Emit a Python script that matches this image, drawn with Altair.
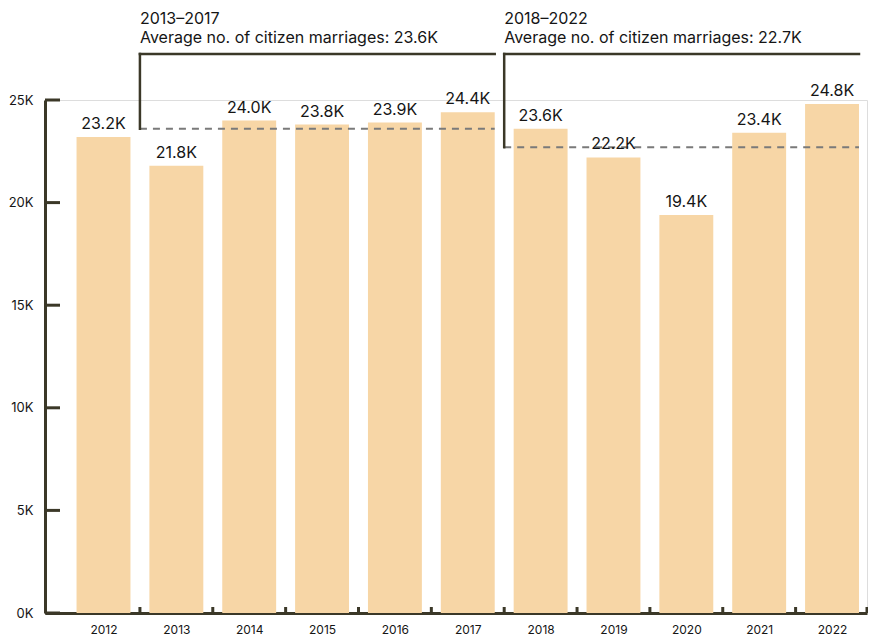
import altair as alt
import pandas as pd

# ---- data ----
years = [2012, 2013, 2014, 2015, 2016, 2017, 2018, 2019, 2020, 2021, 2022]
marriages = [23200, 21800, 24000, 23800, 23900, 24400, 23600, 22200, 19400, 23400, 24800]

period_start = [2013, 2018]
period_end = [2017, 2022]
period_avg = [23600, 22700]
period_title = ["2013–2017", "2018–2022"]
period_avg_label = ["23.6K", "22.7K"]

y_ticks = [0, 5000, 10000, 15000, 20000, 25000]
tick_years = years[:-1]

# ---- style ----
W, H = 822, 513
BAR = "#F7D6A6"
DARK = "#3B3828"
TEXT = "#151515"
FONT = "Inter"
HALF_BAR = 0.37

bars_df = pd.DataFrame({"year": years, "value": marriages})
periods_df = pd.DataFrame({
    "start": period_start,
    "end": period_end,
    "avg": period_avg,
    "title": period_title,
    "sub": [f"Average no. of citizen marriages: {a}" for a in period_avg_label],
})
yt_df = pd.DataFrame({"v": y_ticks})
xt_df = pd.DataFrame({"year": tick_years})

xscale = alt.Scale(domain=[2011.197, 2022.48], nice=False, zero=False)
yscale = alt.Scale(domain=[0, 25000], nice=False)

xaxis = alt.Axis(values=years, format="d", ticks=False, grid=False,
                 domainColor=DARK, domainWidth=3, labelFont=FONT,
                 labelFontSize=12, labelColor=TEXT, labelPadding=11,
                 labelFlush=False, title=None)
yaxis = alt.Axis(values=y_ticks, ticks=False, grid=False,
                 labelExpr="datum.value / 1000 + 'K'",
                 domainColor=DARK, domainWidth=3, labelFont=FONT,
                 labelFontSize=13, labelColor=TEXT, labelPadding=12, title=None)


def X(field):
    return alt.X(field, scale=xscale, axis=xaxis, title=None)


def Y(field):
    return alt.Y(field, scale=yscale, axis=yaxis, title=None)


base = alt.Chart(bars_df)

bars = base.transform_calculate(
    x0=f"datum.year - {HALF_BAR}", x1=f"datum.year + {HALF_BAR}"
).mark_bar(color=BAR).encode(
    x=X("x0:Q"),
    x2="x1:Q",
    y=Y("value:Q"),
    y2=alt.datum(0),
)

labels = base.transform_calculate(
    lbl="format(datum.value / 1000, '.1f') + 'K'"
).mark_text(font=FONT, fontSize=16, color=TEXT, baseline="alphabetic", dy=-8).encode(
    x=X("year:Q"),
    y=Y("value:Q"),
    text="lbl:N",
)

ytick_marks = alt.Chart(yt_df).mark_rule(color=DARK, strokeWidth=3).encode(
    y=Y("v:Q"),
    x=alt.value(0),
    x2=alt.value(15),
)

xtick_marks = alt.Chart(xt_df).transform_calculate(
    edge="datum.year + 0.5"
).mark_rule(color=DARK, strokeWidth=3).encode(
    x=X("edge:Q"),
    y=alt.value(H - 6),
    y2=alt.value(H),
)

end_tick = alt.Chart(xt_df.head(1)).mark_rule(color=DARK, strokeWidth=3).encode(
    x=alt.value(W),
    y=alt.value(H - 6),
    y2=alt.value(H),
)

pbase = alt.Chart(periods_df).transform_calculate(
    x0="datum.start - 0.5", x1=f"datum.end + {HALF_BAR}"
)

dashed = pbase.mark_rule(color="#7a7a7a", strokeWidth=2, strokeDash=[7, 6]).encode(
    x=X("x0:Q"),
    x2="x1:Q",
    y=Y("avg:Q"),
)

bracket_v = pbase.mark_rule(color=DARK, strokeWidth=2.5, strokeCap="square").encode(
    x=X("x0:Q"),
    y=Y("avg:Q"),
    y2=alt.value(-46),
)

bracket_h = pbase.mark_rule(color=DARK, strokeWidth=2.5, strokeCap="square").encode(
    x=X("x0:Q"),
    x2="x1:Q",
    y=alt.value(-46),
)

ann_title = pbase.mark_text(font=FONT, fontSize=16, color=TEXT, align="left",
                            baseline="alphabetic").encode(
    x=X("x0:Q"),
    y=alt.value(-76.5),
    text="title:N",
)

ann_sub = pbase.mark_text(font=FONT, fontSize=16, color=TEXT, align="left",
                          baseline="alphabetic").encode(
    x=X("x0:Q"),
    y=alt.value(-57),
    text="sub:N",
)

chart = alt.layer(
    bars, dashed, labels, ytick_marks, xtick_marks, end_tick,
    bracket_v, bracket_h, ann_title, ann_sub,
).properties(
    width=W, height=H,
    autosize=alt.AutoSizeParams(type="none"),
    padding={"left": 37, "top": 92, "right": 1, "bottom": 22},
).configure_view(stroke=None).configure(background="white")

chart.save("out.html", embed_options={"renderer": "svg", "actions": False})
